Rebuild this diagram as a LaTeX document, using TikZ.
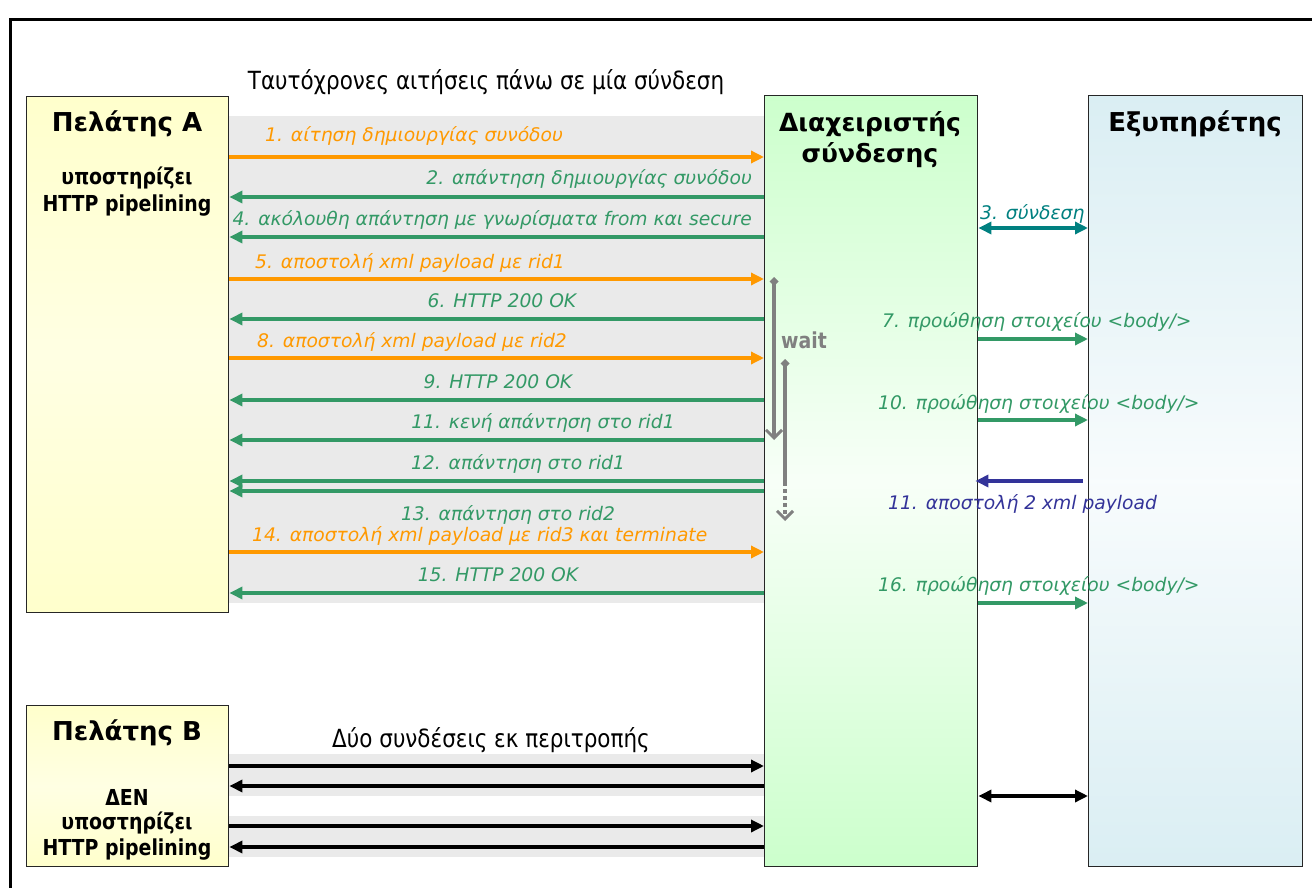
\documentclass[tikz,border=0pt]{standalone}
\usepackage{fontspec}
\setmainfont{DejaVu Sans}
\newfontfamily\condfont[FakeStretch=0.86]{DejaVu Sans}
\usetikzlibrary{arrows.meta}

\definecolor{reqorange}{HTML}{FF9900}
\definecolor{respgreen}{HTML}{339966}
\definecolor{linkteal}{HTML}{008080}
\definecolor{pushblue}{HTML}{333399}
\definecolor{waitgray}{HTML}{808080}
\definecolor{bandgray}{HTML}{EAEAEA}
\definecolor{clientyellow}{HTML}{FFFFCC}
\definecolor{managergreen}{HTML}{CCFFCC}
\definecolor{serverblue}{HTML}{DAEEF3}

\tikzset{
  party/.style={draw=black!85, line width=1.4pt, anchor=north west, inner sep=0pt},
  clientbox/.style={party, top color=clientyellow, bottom color=clientyellow, middle color=clientyellow!55!white},
  managerbox/.style={party, top color=managergreen, bottom color=managergreen, middle color=managergreen!15!white},
  serverbox/.style={party, top color=serverblue, bottom color=serverblue, middle color=serverblue!20!white},
  boxtitle/.style={font=\bfseries\fontsize{26}{32}\selectfont, anchor=base, align=center, inner sep=0pt},
  boxnote/.style={font=\condfont\bfseries\fontsize{22}{25}\selectfont, anchor=base, inner sep=0pt},
  caption/.style={font=\condfont\fontsize{25}{29}\selectfont, anchor=base, inner sep=0pt},
  lbl/.style={font=\itshape\fontsize{18.7}{22}\selectfont, inner sep=0pt},
  tip/.style={-{Triangle[length=13pt,width=12pt]}},
  msg/.style={line width=3.5pt, tip},
  dmsg/.style={line width=3.5pt, {Triangle[length=13pt,width=12pt]}-{Triangle[length=13pt,width=12pt]}},
  waitline/.style={line width=3.5pt, draw=waitgray},
}

\begin{document}
\begin{tikzpicture}[x=1pt, y=-1pt]
\useasboundingbox (0,0) rectangle (1312,888);

% outer frame, partly running off the page
\draw[line width=3pt] (10,900) -- (10,20) -- (1330,20);

% shaded lanes behind the exchanges
\fill[bandgray] (228,116) rectangle (765,603);
\fill[bandgray] (228,754) rectangle (765,796);
\fill[bandgray] (228,816) rectangle (765,857);

% the parties
\node[clientbox, minimum width=202pt, minimum height=516pt] (clientA) at (26,96) {};
\node[clientbox, minimum width=202pt, minimum height=161pt] (clientB) at (26,705) {};
\node[managerbox, minimum width=213pt, minimum height=771pt] (manager) at (764,95) {};
\node[serverbox, minimum width=214pt, minimum height=771pt] (server) at (1088,95) {};

% party titles and notes
\node[boxtitle] (clientAtitle) at (127,132) {Πελάτης A};
\node[boxnote] (clientAnote1) at (127,185) {υποστηρίζει};
\node[boxnote] (clientAnote2) at (127,211) {HTTP pipelining};
\node[boxtitle] (clientBtitle) at (127,740) {Πελάτης B};
\node[boxnote] (clientBnote1) at (127,805) {ΔΕΝ};
\node[boxnote] (clientBnote2) at (127,829) {υποστηρίζει};
\node[boxnote] (clientBnote3) at (127,855) {HTTP pipelining};
\node[boxtitle, font=\bfseries\fontsize{25}{32}\selectfont] (managertitle) at (870,163) {Διαχειριστής\\σύνδεσης};
\node[boxtitle] (servertitle) at (1195,132) {Εξυπηρέτης};

% captions
\node[caption] (pipecap) at (486,90) {Ταυτόχρονες αιτήσεις πάνω σε μία σύνδεση};
\node[caption] (altcap) at (491,747) {Δύο συνδέσεις εκ περιτροπής};

% client A <-> connection manager
\draw[msg, reqorange] (clientA.east |- 0,157) -- (manager.west |- 0,157);
\draw[msg, respgreen] (manager.west |- 0,197) -- (clientA.east |- 0,197);
\draw[msg, respgreen] (manager.west |- 0,237) -- (clientA.east |- 0,237);
\draw[msg, reqorange] (clientA.east |- 0,279) -- (manager.west |- 0,279);
\draw[msg, respgreen] (manager.west |- 0,319) -- (clientA.east |- 0,319);
\draw[msg, reqorange] (clientA.east |- 0,358) -- (manager.west |- 0,358);
\draw[msg, respgreen] (manager.west |- 0,400) -- (clientA.east |- 0,400);
\draw[msg, respgreen] (manager.west |- 0,440) -- (clientA.east |- 0,440);
\draw[msg, respgreen] (manager.west |- 0,481) -- (clientA.east |- 0,481);
\draw[msg, respgreen] (manager.west |- 0,491) -- (clientA.east |- 0,491);
\draw[msg, reqorange] (clientA.east |- 0,552) -- (manager.west |- 0,552);
\draw[msg, respgreen] (manager.west |- 0,593) -- (clientA.east |- 0,593);

\node[lbl, text=reqorange, anchor=base west] (m1) at (265,142) {1. αίτηση δημιουργίας συνόδου};
\node[lbl, text=respgreen, anchor=base east] (m2) at (752,185) {2. απάντηση δημιουργίας συνόδου};
\node[lbl, text=respgreen, anchor=base east] (m4) at (752,225) {4. ακόλουθη απάντηση με γνωρίσματα from και secure};
\node[lbl, text=reqorange, anchor=base west] (m5) at (255,268) {5. αποστολή xml payload με rid1};
\node[lbl, text=respgreen, anchor=base] (m6) at (502,307) {6. HTTP 200 OK};
\node[lbl, text=reqorange, anchor=base west] (m8) at (257,347) {8. αποστολή xml payload με rid2};
\node[lbl, text=respgreen, anchor=base] (m9) at (498,388) {9. HTTP 200 OK};
\node[lbl, text=respgreen, anchor=base] (m11) at (543,428) {11. κενή απάντηση στο rid1};
\node[lbl, text=respgreen, anchor=base] (m12) at (518,469) {12. απάντηση στο rid1};
\node[lbl, text=respgreen, anchor=base] (m13) at (508,520) {13. απάντηση στο rid2};
\node[lbl, text=reqorange, anchor=base west] (m14) at (252,541) {14. αποστολή xml payload με rid3 και terminate};
\node[lbl, text=respgreen, anchor=base] (m15) at (498,581) {15. HTTP 200 OK};

% waiting periods inside the connection manager
\coordinate (wait1start) at (774,277);
\coordinate (wait1end) at (774,440);
\coordinate (wait2start) at (785,359);
\coordinate (wait2mid) at (785,482);
\coordinate (wait2end) at (785,521);
\draw[waitline, {Diamond[length=9pt,width=9pt]}-{Straight Barb[length=8pt,width=16pt,line width=3pt]}] (wait1start) -- (wait1end);
\draw[waitline, {Diamond[length=9pt,width=9pt]}-] (wait2start) -- (wait2mid);
\draw[waitline, dash pattern=on 4pt off 3pt, -{Straight Barb[length=8pt,width=16pt,line width=3pt]}] (wait2mid) -- (wait2end);
\node[font=\condfont\bfseries\fontsize{22}{25}\selectfont, text=waitgray, anchor=base west, inner sep=0pt] (waitlbl) at (781,348) {wait};

% connection manager <-> server
\draw[dmsg, linkteal] (manager.east |- 0,228) -- (server.west |- 0,228);
\node[lbl, text=linkteal, anchor=base west] (m3) at (980,219) {3. σύνδεση};
\draw[msg, respgreen] (manager.east |- 0,339) -- (server.west |- 0,339);
\node[lbl, text=respgreen, anchor=base west] (m7) at (882,327) {7. προώθηση στοιχείου <body/>};
\draw[msg, respgreen] (manager.east |- 0,420) -- (server.west |- 0,420);
\node[lbl, text=respgreen, anchor=base west] (m10) at (878,409) {10. προώθηση στοιχείου <body/>};
\draw[msg, pushblue, shorten <=5pt, shorten >=-3pt] (server.west |- 0,481) -- (manager.east |- 0,481);
\node[lbl, text=pushblue, anchor=base west] (m11b) at (888,509) {11. αποστολή 2 xml payload};
\draw[msg, respgreen] (manager.east |- 0,603) -- (server.west |- 0,603);
\node[lbl, text=respgreen, anchor=base west] (m16) at (878,591) {16. προώθηση στοιχείου <body/>};

% client B: one request per connection
\draw[msg, black] (clientB.east |- 0,766) -- (manager.west |- 0,766);
\draw[msg, black] (manager.west |- 0,786) -- (clientB.east |- 0,786);
\draw[msg, black] (clientB.east |- 0,826) -- (manager.west |- 0,826);
\draw[msg, black] (manager.west |- 0,847) -- (clientB.east |- 0,847);
\draw[dmsg, black] (manager.east |- 0,796) -- (server.west |- 0,796);
\end{tikzpicture}
\end{document}
